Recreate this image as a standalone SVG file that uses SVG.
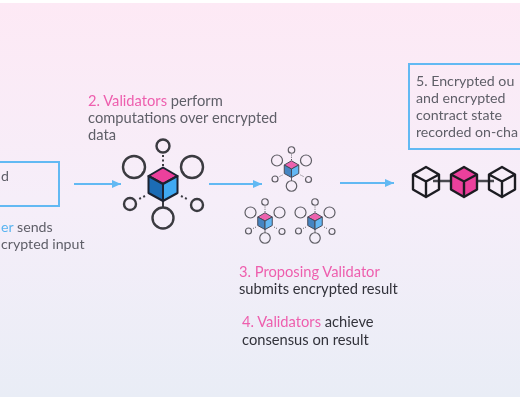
<svg xmlns="http://www.w3.org/2000/svg" width="520" height="400" viewBox="0 0 520 400">
<style>
text{font-family:Lato,"Liberation Sans",sans-serif;font-size:14.7px;fill:#5f5f68}
.p{fill:#ee5fae}.b{fill:#5ab4f0}.d{fill:#33333b}
.s{font-size:14.2px}
.box{fill:none;stroke:#62b9f3;stroke-width:2}
.ring{fill:none;stroke:#3a3a40;stroke-width:2.4}
.lnk{stroke:#3a3a40;stroke-width:2;fill:none}
.dot{stroke:#3a3a40;stroke-width:2;fill:none;stroke-dasharray:2 2.5}
.cube{stroke:#1c2230;stroke-width:2;stroke-linejoin:round}
.wire{fill:none;stroke:#1f1f24;stroke-width:2.4;stroke-linejoin:round}
.arr{stroke:#62b9f3;stroke-width:2;fill:none;marker-end:url(#ah)}
.small{opacity:.8}
</style>
<defs>
<linearGradient id="bg" x1="0" y1="0" x2="0" y2="1"><stop offset="0" stop-color="#fde9f5"/><stop offset=".5" stop-color="#f6eef9"/><stop offset="1" stop-color="#e9edf6"/></linearGradient>
<filter id="soft"><feGaussianBlur stdDeviation="0.55"/></filter>
<marker id="ah" markerUnits="userSpaceOnUse" markerWidth="10" markerHeight="10" refX="9" refY="4" orient="auto"><path d="M0 0L9 4L0 8Z" fill="#62b9f3"/></marker>
<g id="val">
<path class="lnk" d="M-21-10L-19-13M21-10L19-13M0 17V24"/>
<path class="dot" d="M0-18V-30M-18 12L-26 16M18 12L26 16"/>
<circle class="ring" cx="0" cy="-38" r="6.500"/>
<circle class="ring" cx="-29" cy="-17" r="11"/>
<circle class="ring" cx="29" cy="-17" r="11"/>
<circle class="ring" cx="-33" cy="20" r="6"/>
<circle class="ring" cx="34" cy="21" r="6"/>
<circle class="ring" cx="0" cy="34" r="10.500"/>
<path class="cube" fill="#ec3f9c" d="M0-16.500L14.500-8L0 0L-14.500-8Z"/>
<path class="cube" fill="#1b6cb5" d="M-14.500-8L0 0V17L-14.500 9Z"/>
<path class="cube" fill="#3fa9f2" d="M14.500-8L0 0V17L14.500 9Z"/>
</g>
<path id="blk" class="wire" d="M0-15L13-7.500V7.500L0 15L-13 7.500V-7.500ZM-13-7.500L0-.500L13-7.500M0-.500V15"/>
</defs>
<rect width="520" height="400" fill="#ffffff"/>
<rect y="3" width="520" height="394" fill="url(#bg)"/>
<g filter="url(#soft)">
<g id="connectors">
<path class="arr" d="M74 184H121"/>
<path class="arr" d="M209 184H262"/>
<path class="arr" d="M340 183H394"/>
</g>
<g id="node-1">
<rect class="box" x="-10" y="162" width="69" height="44"/>
<text x="1" y="181" class="s">d</text>
<text x="1" y="232" class="s"><tspan class="b">er</tspan> sends</text>
<text x="1" y="249" class="s">crypted input</text>
</g>
<g id="node-2">
<text x="88" y="106"><tspan class="p">2. Validators</tspan> perform</text>
<text x="88" y="123">computations over encrypted</text>
<text x="88" y="140">data</text>
<use href="#val" transform="translate(163 184)"/>
</g>
<g id="validators" class="small">
<use href="#val" transform="translate(291.500 169) scale(.5)"/>
<use href="#val" transform="translate(265 221) scale(.5)"/>
<use href="#val" transform="translate(315 221) scale(.5)"/>
</g>
<g id="node-3"><text x="239" y="277" class="p">3. Proposing Validator</text><text x="239" y="294" class="d">submits encrypted result</text></g>
<g id="node-4"><text x="242" y="327"><tspan class="p">4. Validators</tspan> <tspan class="d">achieve</tspan></text><text x="242" y="345" class="d">consensus on result</text></g>
<g id="node-5">
<rect class="box" x="409" y="64" width="125" height="85"/>
<text x="416" y="86" class="s">5. Encrypted ou</text>
<text x="416" y="103" class="s">and encrypted</text>
<text x="416" y="120" class="s">contract state</text>
<text x="416" y="137" class="s">recorded on-cha</text>
</g>
<g id="chain">
<path stroke="#4a4a50" stroke-width="2.500" d="M433 181H494"/>
<use href="#blk" x="426" y="182"/>
<path d="M464 167L477 174.500V189.500L464 197L451 189.500V174.500Z" fill="#ec3f9c" stroke="#1f1f24" stroke-width="2.400" stroke-linejoin="round"/>
<path d="M451 174.500L464 181.500L477 174.500M464 181.500V197" fill="none" stroke="#1f1f24" stroke-width="2.400"/>
<use href="#blk" x="502" y="182"/>
</g>
</g>
</svg>
